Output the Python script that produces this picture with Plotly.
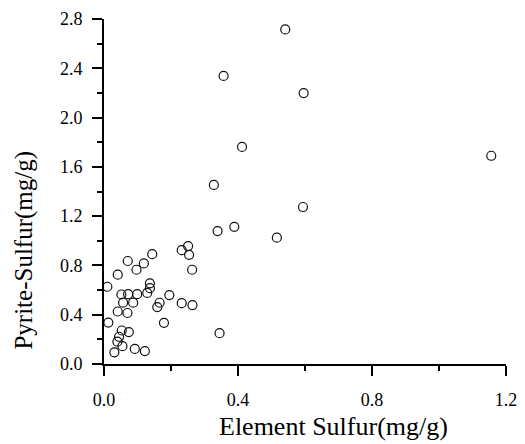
import plotly.graph_objects as go

element_sulfur = [
    0.541, 0.357, 0.596, 0.412, 1.156, 0.328, 0.594, 0.339, 0.389, 0.516, 0.345,
    0.232, 0.251, 0.254, 0.144, 0.071, 0.119, 0.097, 0.263, 0.041, 0.010,
    0.137, 0.137, 0.129, 0.052, 0.072, 0.099, 0.057, 0.087, 0.195, 0.166,
    0.159, 0.232, 0.264, 0.041, 0.070, 0.013, 0.179, 0.053, 0.074, 0.045,
    0.040, 0.055, 0.031, 0.092, 0.122,
]
pyrite_sulfur = [
    2.715, 2.338, 2.199, 1.762, 1.690, 1.453, 1.274, 1.079, 1.113, 1.025, 0.250,
    0.924, 0.957, 0.886, 0.891, 0.836, 0.816, 0.765, 0.765, 0.725, 0.627,
    0.655, 0.615, 0.577, 0.564, 0.567, 0.567, 0.498, 0.498, 0.559, 0.497,
    0.462, 0.494, 0.478, 0.426, 0.414, 0.336, 0.334, 0.272, 0.259, 0.221,
    0.181, 0.145, 0.095, 0.122, 0.105,
]
x_ticks = [0.0, 0.4, 0.8, 1.2]
x_tick_labels = ["0.0", "0.4", "0.8", "1.2"]
y_ticks = [0.0, 0.4, 0.8, 1.2, 1.6, 2.0, 2.4, 2.8]
y_tick_labels = ["0.0", "0.4", "0.8", "1.2", "1.6", "2.0", "2.4", "2.8"]
x_title = "Element Sulfur(mg/g)"
y_title = "Pyrite-Sulfur(mg/g)"

FONT = "Liberation Serif"

fig = go.Figure()
fig.add_trace(go.Scatter(
    x=element_sulfur, y=pyrite_sulfur, mode="markers",
    marker=dict(symbol="circle-open", size=9, color="#111111",
                line=dict(width=1.2, color="#111111")),
    showlegend=False, hoverinfo="x+y",
))

axis_common = dict(
    showline=True, linecolor="black", linewidth=2, mirror=False,
    showgrid=False, zeroline=False, automargin=False,
    ticks="outside", ticklen=10, tickwidth=2, tickcolor="black",
    ticklabeloverflow="allow",
    tickfont=dict(family=FONT, size=18, color="black"),
    minor=dict(ticks="outside", ticklen=5, tickwidth=1.5, tickcolor="black", dtick=0.2),
)

fig.update_xaxes(range=[0, 1.2], tickvals=x_ticks, ticktext=x_tick_labels,
                 ticklabelstandoff=8, **axis_common)
fig.update_yaxes(range=[0, 2.8], tickvals=y_ticks, ticktext=y_tick_labels,
                 ticklabelstandoff=6, **axis_common)

fig.add_annotation(text=x_title, xref="paper", yref="paper", x=0.572, y=-0.18,
                   xanchor="center", yanchor="middle", showarrow=False,
                   font=dict(family=FONT, size=26, color="black"))
fig.add_annotation(text=y_title, xref="paper", yref="paper", x=-0.198, y=0.33,
                   xanchor="center", yanchor="middle", showarrow=False, textangle=-90,
                   font=dict(family=FONT, size=25, color="black"))

fig.update_layout(
    width=525, height=444,
    margin=dict(l=96, r=27, t=11, b=88, autoexpand=False),
    paper_bgcolor="white", plot_bgcolor="white",
)

fig.write_html("out.html")
